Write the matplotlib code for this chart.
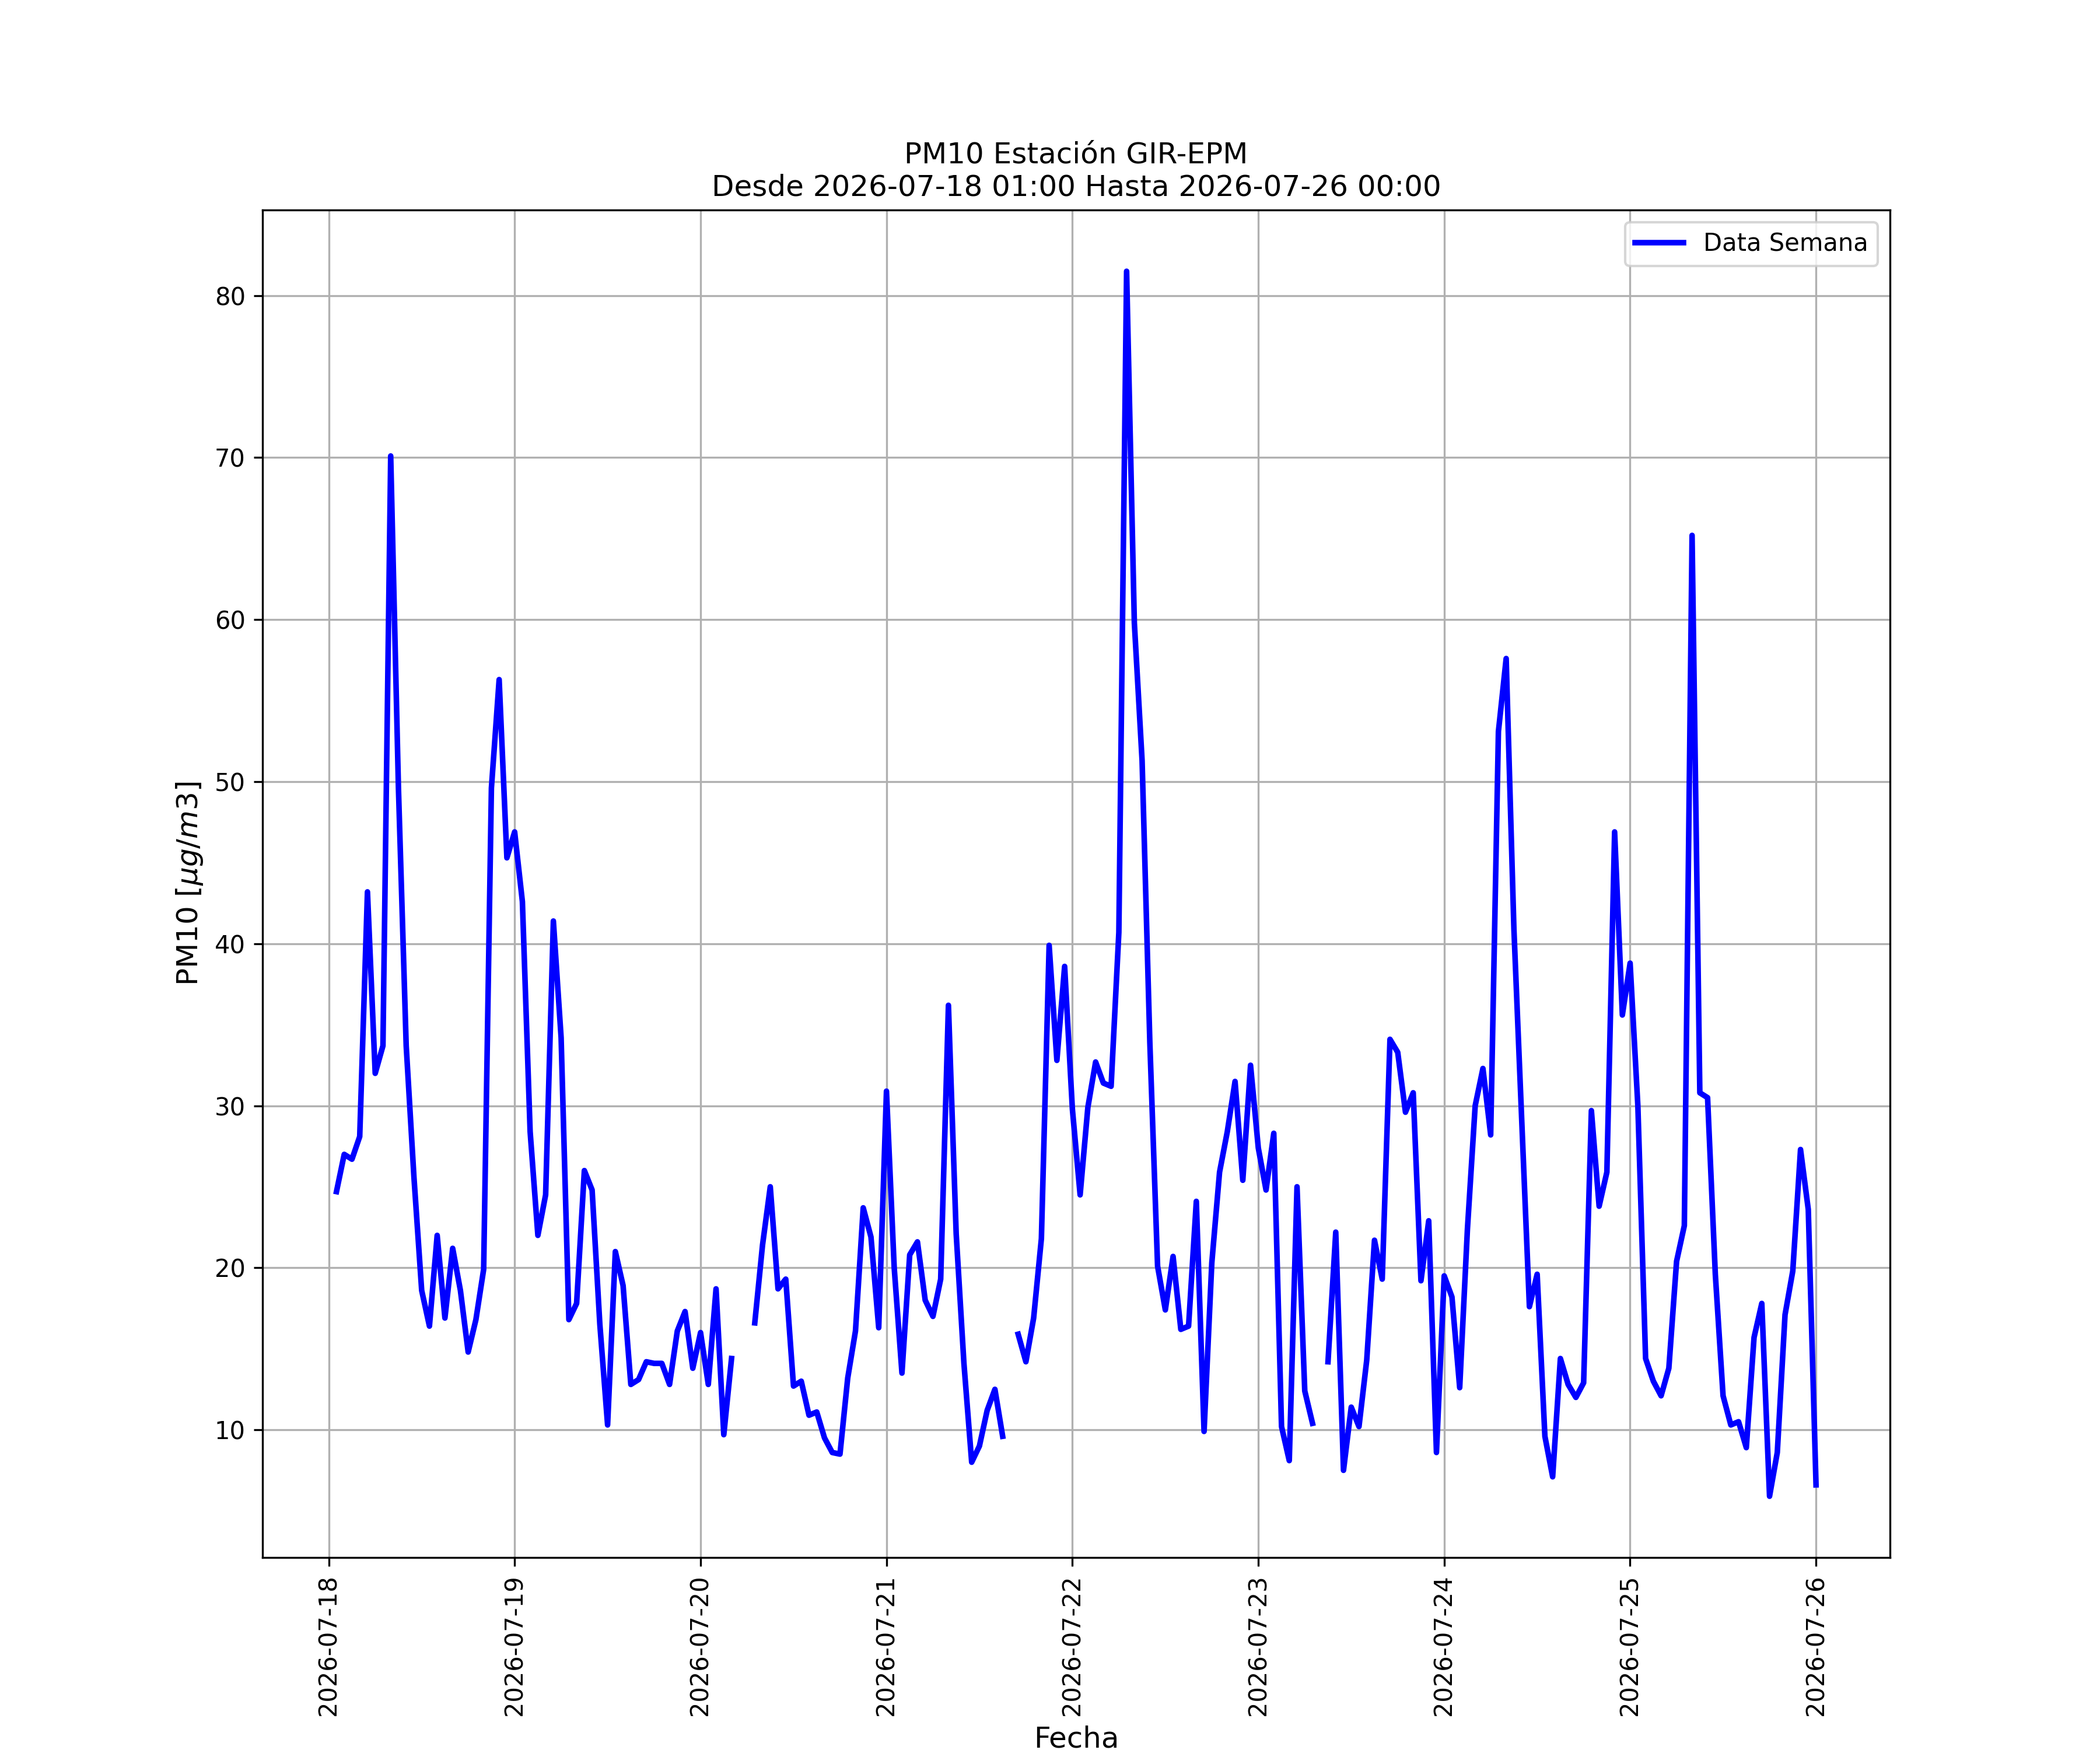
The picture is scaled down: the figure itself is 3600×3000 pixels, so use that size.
import numpy as np
import pandas as pd
import matplotlib
matplotlib.use("Agg")
import matplotlib.pyplot as plt
import matplotlib.dates as mdates

# PM10 horario, estacion GIR-EPM (nan = dato faltante)
nan = np.nan
pm10 = [
    24.7, 27.0, 26.7, 28.1, 43.2, 32.0, 33.7, 70.1, 49.6, 33.7, 25.6, 18.6,
    16.4, 22.0, 16.9, 21.2, 18.6, 14.8, 16.8, 19.9, 49.6, 56.3, 45.3, 46.9,
    42.6, 28.4, 22.0, 24.5, 41.4, 34.2, 16.8, 17.8, 26.0, 24.8, 16.5, 10.3,
    21.0, 18.9, 12.8, 13.1, 14.2, 14.1, 14.1, 12.8, 16.1, 17.3, 13.8, 16.0,
    12.8, 18.7, 9.7, 14.4, nan, nan, 16.6, 21.4, 25.0, 18.7, 19.3, 12.7,
    13.0, 10.9, 11.1, 9.5, 8.6, 8.5, 13.2, 16.1, 23.7, 21.9, 16.3, 30.9,
    20.0, 13.5, 20.8, 21.6, 18.0, 17.0, 19.3, 36.2, 22.1, 14.1, 8.0, 9.0,
    11.2, 12.5, 9.6, nan, 15.9, 14.2, 16.9, 21.8, 39.9, 32.8, 38.6, 29.8,
    24.5, 29.9, 32.7, 31.4, 31.2, 40.7, 81.5, 59.8, 51.3, 33.9, 20.1, 17.4,
    20.7, 16.2, 16.4, 24.1, 9.9, 20.3, 25.9, 28.4, 31.5, 25.4, 32.5, 27.4,
    24.8, 28.3, 10.2, 8.1, 25.0, 12.4, 10.4, nan, 14.2, 22.2, 7.5, 11.4,
    10.2, 14.3, 21.7, 19.3, 34.1, 33.3, 29.6, 30.8, 19.2, 22.9, 8.6, 19.5,
    18.2, 12.6, 22.4, 30.0, 32.3, 28.2, 53.1, 57.6, 40.9, 29.2, 17.6, 19.6,
    9.6, 7.1, 14.4, 12.8, 12.0, 12.9, 29.7, 23.8, 25.9, 46.9, 35.6, 38.8,
    30.0, 14.4, 13.0, 12.1, 13.8, 20.4, 22.6, 65.2, 30.8, 30.5, 19.6, 12.1,
    10.3, 10.5, 8.9, 15.7, 17.8, 5.9, 8.6, 17.1, 19.8, 27.3, 23.6, 6.6,
]
inicio = "2026-07-18 01:00"
fin = "2026-07-26 00:00"
fechas = pd.date_range(inicio, fin, freq="h")

fig, ax = plt.subplots(figsize=(12, 10), dpi=300)
ax.plot(fechas, pm10, color="b", linewidth=2.3, label="Data Semana")

ax.set_title("PM10 Estación GIR-EPM\nDesde %s Hasta %s" % (inicio, fin), fontsize=12)
ax.set_xlabel("Fecha", fontsize=12)
ax.set_ylabel(r"PM10 [$\mu g/m3$]", fontsize=12)

ax.xaxis.set_major_locator(mdates.DayLocator())
ax.xaxis.set_major_formatter(mdates.DateFormatter("%Y-%m-%d"))
plt.setp(ax.get_xticklabels(), rotation=90)
ax.grid(True)
ax.legend(loc="upper right")

fig.savefig("out.png", dpi=300)
